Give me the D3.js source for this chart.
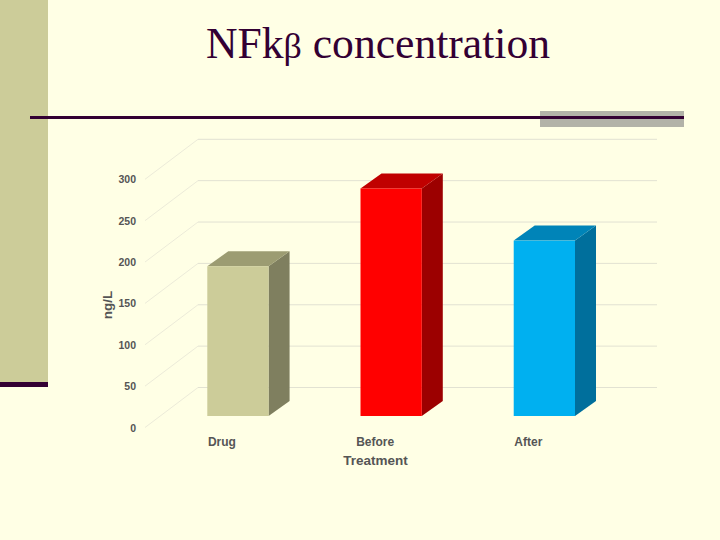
<!DOCTYPE html>
<html>
<head>
<meta charset="utf-8">
<script src="https://cdn.jsdelivr.net/npm/d3@7"></script>
<style>
  html, body { margin: 0; padding: 0; background: #ffffe5; }
  svg { display: block; }
</style>
</head>
<body>
<div id="chart-area"></div>
<script>
const categories = ["Drug", "Before", "After"];
const values = [181, 275, 212];
const faceColors = ["#cccc99", "#ff0000", "#00b0f0"];
const topColors = ["#9c9c72", "#c00000", "#0084b8"];
const sideColors = ["#7f7f5f", "#9c0000", "#006f9c"];
const yTicks = [0, 50, 100, 150, 200, 250, 300];

const width = 720;
const height = 540;

const svg = d3.select("#chart-area")
  .append("svg")
    .attr("width", width)
    .attr("height", height);

// slide background pieces
svg.append("rect").attr("x", 0).attr("y", 0).attr("width", 48).attr("height", 382).attr("fill", "#cccc99");
svg.append("rect").attr("x", 0).attr("y", 382).attr("width", 48).attr("height", 5).attr("fill", "#330033");
svg.append("rect").attr("x", 540).attr("y", 111).attr("width", 144).attr("height", 16).attr("fill", "#b2b2a8");
svg.append("rect").attr("x", 30).attr("y", 116).attr("width", 654).attr("height", 3).attr("fill", "#330033");

// the beta is a bit smaller than the rest of the title
const title = svg.append("text")
  .attr("x", 378)
  .attr("y", 58)
  .attr("text-anchor", "middle")
  .attr("font-family", "'Liberation Serif', serif")
  .attr("font-size", 43.6)
  .attr("fill", "#330033");
title.append("tspan").text("NFk");
title.append("tspan").attr("font-size", 36).text("β");
title.append("tspan").text(" concentration");

const y = d3.scaleLinear().domain([0, 300]).range([427.5, 179.3]);
const x = d3.scaleBand().domain(categories).range([207.3, 575]).paddingInner(0.6).paddingOuter(0);

// 3d offsets of the chart
const wallDx = 53, wallDy = -40;
const floorDy = -11.5, floorDx = 15;
const barDx = 21, barDy = -15;

// gridlines, floor to back wall then across
const grid = svg.append("g").attr("fill", "none");

grid.selectAll("path.slant")
  .data(yTicks)
  .join("path")
    .attr("class", "slant")
    .attr("stroke", "#ecebd9")
    .attr("stroke-width", 1)
    .attr("d", d => `M145,${y(d)}L${145 + wallDx},${y(d) + wallDy}`);

grid.selectAll("path.back")
  .data(yTicks)
  .join("path")
    .attr("class", "back")
    .attr("stroke", "#e2e2d2")
    .attr("stroke-width", 1)
    .attr("d", d => `M${145 + wallDx},${y(d) + wallDy}H657`);

svg.append("g")
  .selectAll("text")
  .data(yTicks)
  .join("text")
    .attr("x", 136)
    .attr("y", d => y(d) + 4)
    .attr("text-anchor", "end")
    .attr("font-family", "'Liberation Sans', sans-serif")
    .attr("font-weight", "bold")
    .attr("font-size", 10.5)
    .attr("fill", "#555555")
    .text(d => d);

// bars
const bars = svg.append("g")
  .selectAll("g")
  .data(categories)
  .join("g");

const base = y(0) + floorDy;
const barTop = (i) => base - (y(0) - y(values[i]));

bars.append("path")
  .attr("fill", (d, i) => sideColors[i])
  .attr("d", (d, i) => {
    const r = x(d) + x.bandwidth();
    return `M${r},${base}L${r + barDx},${base + barDy}V${barTop(i) + barDy}L${r},${barTop(i)}Z`;
  });

bars.append("path")
  .attr("fill", (d, i) => topColors[i])
  .attr("d", (d, i) => {
    const l = x(d), r = l + x.bandwidth();
    return `M${l},${barTop(i)}L${l + barDx},${barTop(i) + barDy}H${r + barDx}L${r},${barTop(i)}Z`;
  });

bars.append("rect")
  .attr("x", d => x(d))
  .attr("y", (d, i) => barTop(i))
  .attr("width", x.bandwidth())
  .attr("height", (d, i) => base - barTop(i))
  .attr("fill", (d, i) => faceColors[i]);

// category labels sit under the floor edge, not under the bar face
svg.append("g")
  .selectAll("text")
  .data(categories)
  .join("text")
    .attr("x", d => x(d) + x.bandwidth() / 2 - floorDx - 1)
    .attr("y", 446)
    .attr("text-anchor", "middle")
    .attr("font-family", "'Liberation Sans', sans-serif")
    .attr("font-weight", "bold")
    .attr("font-size", 12)
    .attr("fill", "#555555")
    .text(d => d);

svg.append("text")
  .attr("x", 375.5)
  .attr("y", 465)
  .attr("text-anchor", "middle")
  .attr("font-family", "'Liberation Sans', sans-serif")
  .attr("font-weight", "bold")
  .attr("font-size", 13.5)
  .attr("fill", "#555555")
  .text("Treatment");

svg.append("text")
  .attr("transform", "translate(112,305) rotate(-90)")
  .attr("text-anchor", "middle")
  .attr("font-family", "'Liberation Sans', sans-serif")
  .attr("font-weight", "bold")
  .attr("font-size", 13.5)
  .attr("fill", "#555555")
  .text("ng/L");
</script>
</body>
</html>
